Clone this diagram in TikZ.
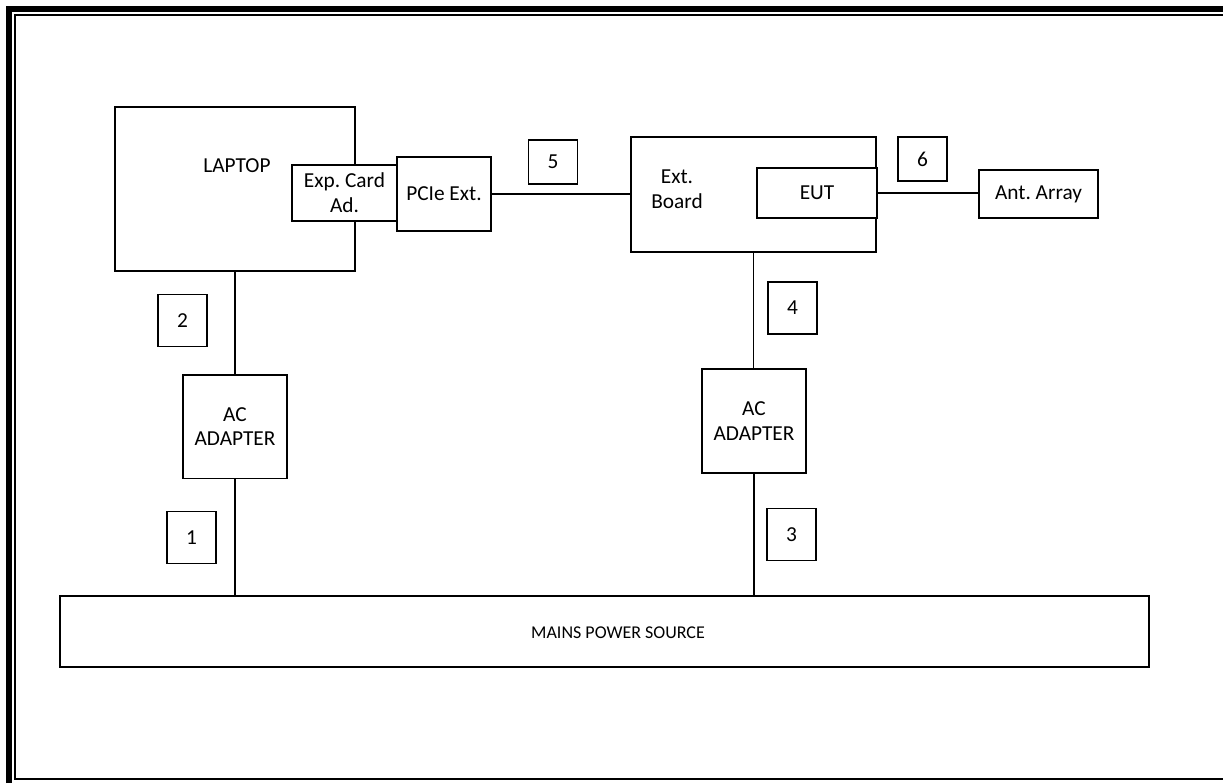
\documentclass[tikz,border=0pt]{standalone}
\usepackage{fontspec}
\setmainfont{Carlito}
\begin{document}
\frenchspacing
\begin{tikzpicture}[x=0.75pt,y=-0.75pt,
  box/.style={draw, line width=1pt, inner sep=0pt, align=center, font=\fontsize{16}{18.5}\selectfont},
  wbox/.style={box, fill=white},
  num/.style={box, minimum width=36.75pt, minimum height=39pt},
  txt/.style={inner sep=0pt, align=center, font=\fontsize{16}{18.5}\selectfont},
  wire/.style={line width=1pt}]
\useasboundingbox (0,0) rectangle (1223,783);
% border
\draw[line width=4.5pt] (9,783) -- (9,9) -- (1223,9);
\draw[line width=1.5pt] (1223,14.5) -- (15,14.5) -- (15,779) -- (1223,779);
% boxes
\node[box, minimum width=180pt, minimum height=123pt] (laptop) at (235,189) {};
\node[txt] (laptoptxt) at (237,166) {LAPTOP};
\node[wbox, minimum width=78.75pt, minimum height=42pt] (exp) at (344.5,193) {Exp. Card\\Ad.};
\node[wbox, minimum width=70.5pt, minimum height=55.5pt] (pcie) at (444,194) {PCIe Ext.};
\node[box, minimum width=183.75pt, minimum height=86.25pt] (board) at (753.5,194.5) {};
\node[txt] (boardtxt) at (677,189) {Ext.\\Board};
\node[wbox, minimum width=90pt, minimum height=37.5pt] (eut) at (817,193) {EUT};
\node[box, minimum width=89.25pt, minimum height=36pt] (ant) at (1038.5,194) {Ant. Array};
\node[box, minimum width=78pt, minimum height=77.5pt] (ac1) at (235,426.5) {AC\\ADAPTER};
\node[box, minimum width=78pt, minimum height=78pt] (ac2) at (754,421) {AC\\ADAPTER};
\node[box, minimum width=816.75pt, minimum height=53.25pt] (mains) at (604.5,631.5) {};
\node[txt, font=\fontsize{13.5}{16}\selectfont] (mainstxt) at (618,633) {MAINS POWER SOURCE};
% number labels
\node[num, minimum height=33pt] (n5) at (553,162) {5};
\node[num, minimum height=33pt] (n6) at (922.5,159) {6};
\node[num] (n2) at (182.5,320.5) {2};
\node[num] (n1) at (191.5,537.5) {1};
\node[num] (n4) at (792.5,308) {4};
\node[num] (n3) at (791.5,534.5) {3};
% connectors
\draw[wire] (laptop.south) -- (ac1.north);
\draw[wire] (ac1.south) -- (ac1.south |- mains.north);
\draw[wire] (board.south) -- (board.south |- ac2.north);
\draw[wire] (ac2.south) -- (ac2.south |- mains.north);
\draw[wire] (pcie.east) -- (pcie.east -| board.west);
\draw[wire] (eut.east) -- (eut.east -| ant.west);
\end{tikzpicture}
\end{document}
